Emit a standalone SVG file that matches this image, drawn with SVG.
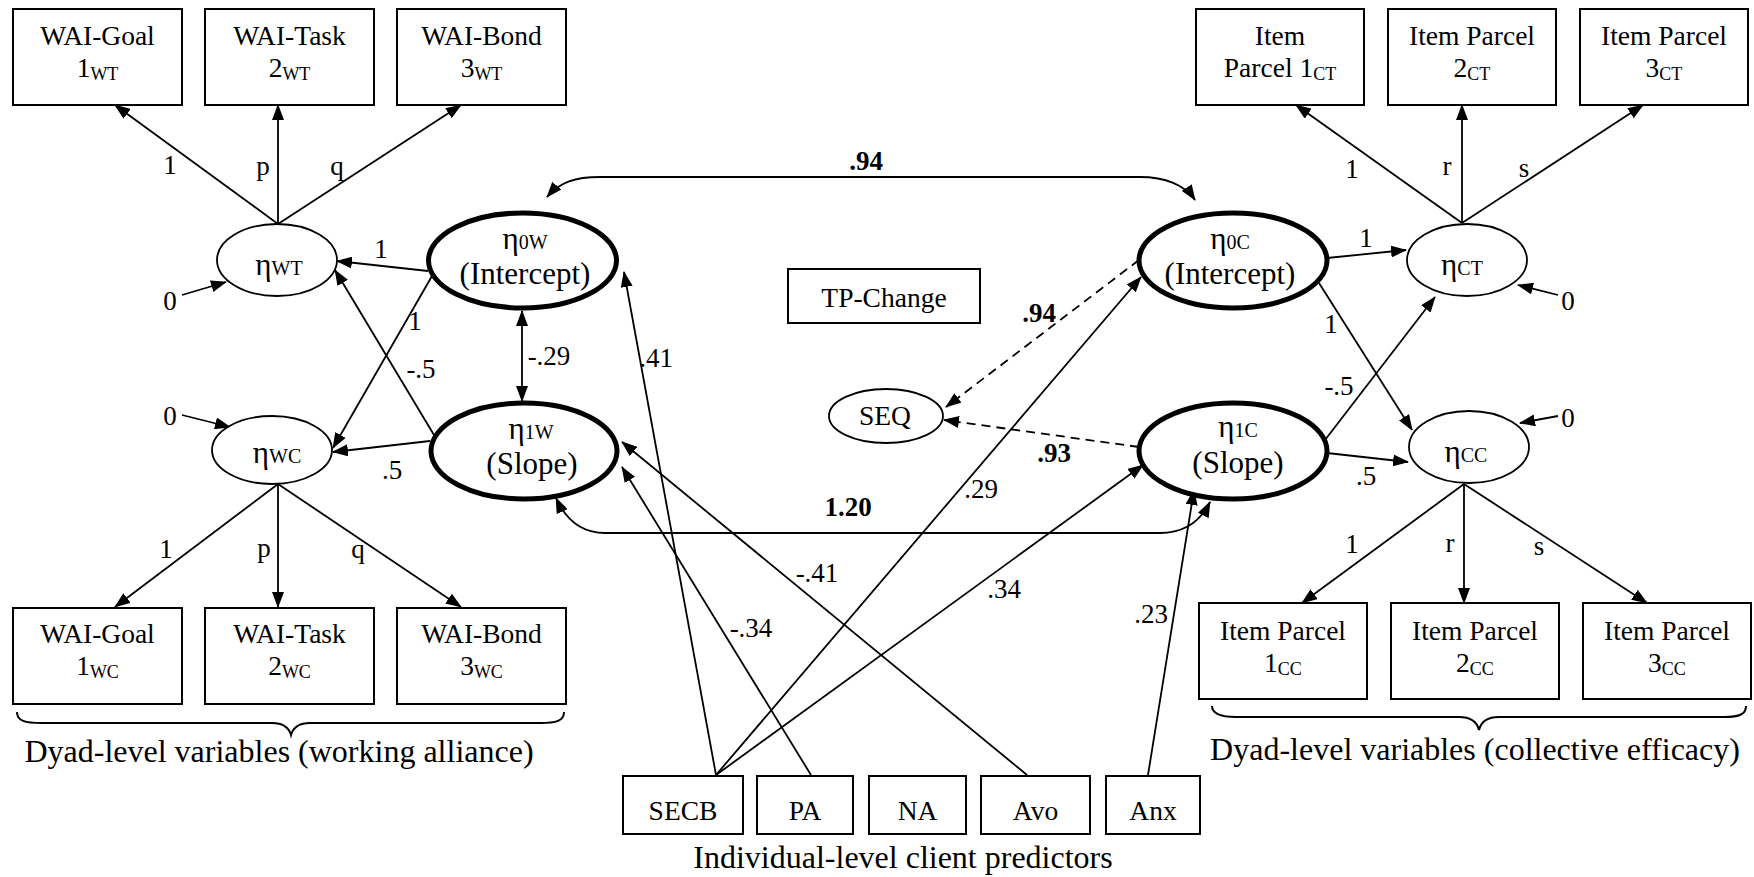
<svg xmlns="http://www.w3.org/2000/svg" width="1754" height="877" viewBox="0 0 1754 877">
<style>
text{font-family:"Liberation Serif","Times New Roman",serif;fill:#000}
.bx{fill:#fff;stroke:#000;stroke-width:2}
.el{fill:#fff;stroke:#000;stroke-width:1.8}
.th{fill:#fff;stroke:#000;stroke-width:5}
.bt{font-size:27.5px;text-anchor:middle}
.sb{font-size:18px}
.et{font-size:31px;text-anchor:middle}
.es{font-size:20px}
.lb{font-size:27px;text-anchor:middle}
.bd{font-size:27px;font-weight:bold;text-anchor:middle}
.cap{font-size:32px;text-anchor:middle}
.ln{fill:none;stroke:#000;stroke-width:1.8}
.ar{marker-end:url(#ah)}
.dd{marker-start:url(#ah);marker-end:url(#ah)}
.ds{stroke-dasharray:9 6}
.br{fill:none;stroke:#000;stroke-width:2}
</style>
<defs>
<marker id="ah" markerUnits="userSpaceOnUse" markerWidth="16" markerHeight="12" refX="15" refY="6" orient="auto-start-reverse" viewBox="0 0 16 12">
<path d="M0,0 L16,6 L0,12 z" fill="#000"/>
</marker>
</defs>

<g id="connectors">
<line class="ln ar" x1="278" y1="224" x2="115" y2="105"/>
<line class="ln ar" x1="278" y1="224" x2="278" y2="105"/>
<line class="ln ar" x1="278" y1="224" x2="461" y2="105"/>
<line class="ln ar" x1="182" y1="295" x2="226" y2="282"/>
<line class="ln ar" x1="182" y1="415" x2="230" y2="427"/>
<line class="ln ar" x1="428" y1="271" x2="337" y2="261"/>
<line class="ln ar" x1="432" y1="276" x2="333" y2="448"/>
<line class="ln ar" x1="434" y1="435" x2="335" y2="270"/>
<line class="ln ar" x1="430" y1="441" x2="333" y2="452"/>
<line class="ln dd" x1="522" y1="311" x2="522" y2="401"/>
<line class="ln ar" x1="278" y1="484" x2="115" y2="607"/>
<line class="ln ar" x1="278" y1="484" x2="278" y2="607"/>
<line class="ln ar" x1="278" y1="484" x2="461" y2="607"/>

<line class="ln ar" x1="1462" y1="223" x2="1296" y2="105"/>
<line class="ln ar" x1="1462" y1="223" x2="1462" y2="105"/>
<line class="ln ar" x1="1462" y1="223" x2="1643" y2="105"/>
<line class="ln ar" x1="1327" y1="258" x2="1406" y2="250"/>
<line class="ln ar" x1="1319" y1="283" x2="1412" y2="430"/>
<line class="ln ar" x1="1325" y1="440" x2="1435" y2="297"/>
<line class="ln ar" x1="1327" y1="453" x2="1408" y2="462"/>
<line class="ln ar" x1="1558" y1="295" x2="1518" y2="285"/>
<line class="ln ar" x1="1558" y1="416" x2="1520" y2="423"/>
<line class="ln ar" x1="1464" y1="484" x2="1302" y2="603"/>
<line class="ln ar" x1="1464" y1="484" x2="1464" y2="603"/>
<line class="ln ar" x1="1464" y1="484" x2="1647" y2="603"/>

<path class="ln dd" d="M547,197 C560,182 575,177 600,177 L1140,177 C1165,177 1185,185 1195,200"/>
<path class="ln dd" d="M556,498 C566,520 582,533 605,533 L1160,533 C1185,533 1201,520 1210,502"/>
<line class="ln ds ar" x1="1139" y1="260" x2="946" y2="407"/>
<line class="ln ds ar" x1="1139" y1="447" x2="944" y2="420"/>

<line class="ln ar" x1="716" y1="775" x2="624" y2="272"/>
<line class="ln ar" x1="716" y1="775" x2="1141" y2="277"/>
<line class="ln ar" x1="716" y1="775" x2="1143" y2="465"/>
<line class="ln ar" x1="811" y1="775" x2="622" y2="467"/>
<line class="ln ar" x1="1027" y1="775" x2="622" y2="442"/>
<line class="ln ar" x1="1148" y1="775" x2="1194" y2="490"/>

<text class="lb" x="170" y="174">1</text>
<text class="lb" x="263" y="175">p</text>
<text class="lb" x="337" y="175">q</text>
<text class="lb" x="170" y="310">0</text>
<text class="lb" x="170" y="425">0</text>
<text class="lb" x="381" y="258">1</text>
<text class="lb" x="415" y="330">1</text>
<text class="lb" x="421" y="378">-.5</text>
<text class="lb" x="392" y="479">.5</text>
<text class="lb" x="549" y="365">-.29</text>
<text class="lb" x="166" y="558">1</text>
<text class="lb" x="264" y="557">p</text>
<text class="lb" x="358" y="558">q</text>

<text class="lb" x="1352" y="178">1</text>
<text class="lb" x="1447" y="175">r</text>
<text class="lb" x="1524" y="177">s</text>
<text class="lb" x="1366" y="247">1</text>
<text class="lb" x="1331" y="333">1</text>
<text class="lb" x="1339" y="395">-.5</text>
<text class="lb" x="1366" y="485">.5</text>
<text class="lb" x="1568" y="310">0</text>
<text class="lb" x="1568" y="427">0</text>
<text class="lb" x="1352" y="553">1</text>
<text class="lb" x="1450" y="552">r</text>
<text class="lb" x="1539" y="555">s</text>

<text class="bd" x="866" y="170">.94</text>
<text class="bd" x="1039" y="322">.94</text>
<text class="bd" x="1054" y="462">.93</text>
<text class="bd" x="848" y="516">1.20</text>
<text class="lb" x="656" y="367">.41</text>
<text class="lb" x="981" y="498">.29</text>
<text class="lb" x="817" y="582">-.41</text>
<text class="lb" x="1004" y="598">.34</text>
<text class="lb" x="751" y="637">-.34</text>
<text class="lb" x="1151" y="623">.23</text>
</g>

<g id="wai-goal-wt"><rect class="bx" x="13" y="9" width="169" height="96"/><text class="bt" x="97.5" y="45">WAI-Goal</text><text class="bt" x="97.5" y="77">1<tspan class="sb" dy="3">WT</tspan></text></g>
<g id="wai-task-wt"><rect class="bx" x="205" y="9" width="169" height="96"/><text class="bt" x="289.5" y="45">WAI-Task</text><text class="bt" x="289.5" y="77">2<tspan class="sb" dy="3">WT</tspan></text></g>
<g id="wai-bond-wt"><rect class="bx" x="397" y="9" width="169" height="96"/><text class="bt" x="481.5" y="45">WAI-Bond</text><text class="bt" x="481.5" y="77">3<tspan class="sb" dy="3">WT</tspan></text></g>

<g id="wai-goal-wc"><rect class="bx" x="13" y="608" width="169" height="96"/><text class="bt" x="97.5" y="643">WAI-Goal</text><text class="bt" x="97.5" y="675">1<tspan class="sb" dy="3">WC</tspan></text></g>
<g id="wai-task-wc"><rect class="bx" x="205" y="608" width="169" height="96"/><text class="bt" x="289.5" y="643">WAI-Task</text><text class="bt" x="289.5" y="675">2<tspan class="sb" dy="3">WC</tspan></text></g>
<g id="wai-bond-wc"><rect class="bx" x="397" y="608" width="169" height="96"/><text class="bt" x="481.5" y="643">WAI-Bond</text><text class="bt" x="481.5" y="675">3<tspan class="sb" dy="3">WC</tspan></text></g>

<g id="parcel-1-ct"><rect class="bx" x="1196" y="9" width="168" height="96"/><text class="bt" x="1280" y="45">Item</text><text class="bt" x="1280" y="77">Parcel 1<tspan class="sb" dy="3">CT</tspan></text></g>
<g id="parcel-2-ct"><rect class="bx" x="1388" y="9" width="168" height="96"/><text class="bt" x="1472" y="45">Item Parcel</text><text class="bt" x="1472" y="77">2<tspan class="sb" dy="3">CT</tspan></text></g>
<g id="parcel-3-ct"><rect class="bx" x="1580" y="9" width="168" height="96"/><text class="bt" x="1664" y="45">Item Parcel</text><text class="bt" x="1664" y="77">3<tspan class="sb" dy="3">CT</tspan></text></g>

<g id="parcel-1-cc"><rect class="bx" x="1199" y="603" width="168" height="96"/><text class="bt" x="1283" y="640">Item Parcel</text><text class="bt" x="1283" y="672">1<tspan class="sb" dy="3">CC</tspan></text></g>
<g id="parcel-2-cc"><rect class="bx" x="1391" y="603" width="168" height="96"/><text class="bt" x="1475" y="640">Item Parcel</text><text class="bt" x="1475" y="672">2<tspan class="sb" dy="3">CC</tspan></text></g>
<g id="parcel-3-cc"><rect class="bx" x="1583" y="603" width="168" height="96"/><text class="bt" x="1667" y="640">Item Parcel</text><text class="bt" x="1667" y="672">3<tspan class="sb" dy="3">CC</tspan></text></g>

<g id="eta-wt"><ellipse class="el" cx="277" cy="260" rx="60" ry="36"/><text class="et" x="279" y="275">η<tspan class="es" font-size="21">WT</tspan></text></g>
<g id="eta-wc"><ellipse class="el" cx="272" cy="450" rx="60" ry="34"/><text class="et" x="277" y="463">η<tspan class="es" font-size="21">WC</tspan></text></g>
<g id="eta-0w"><ellipse class="th" cx="522.5" cy="260.5" rx="94" ry="47.5"/><text class="et" x="525" y="249">η<tspan class="es">0W</tspan></text><text class="et" x="525" y="284">(Intercept)</text></g>
<g id="eta-1w"><ellipse class="th" cx="524" cy="451" rx="93" ry="48"/><text class="et" x="531" y="439">η<tspan class="es">1W</tspan></text><text class="et" x="532" y="474">(Slope)</text></g>
<g id="eta-0c"><ellipse class="th" cx="1233" cy="260.5" rx="94" ry="47.5"/><text class="et" x="1230" y="249">η<tspan class="es">0C</tspan></text><text class="et" x="1230" y="284">(Intercept)</text></g>
<g id="eta-1c"><ellipse class="th" cx="1233" cy="451" rx="94" ry="48"/><text class="et" x="1238" y="437">η<tspan class="es">1C</tspan></text><text class="et" x="1238" y="473">(Slope)</text></g>
<g id="eta-ct"><ellipse class="el" cx="1467" cy="260" rx="60" ry="36"/><text class="et" x="1462" y="275">η<tspan class="es" font-size="21">CT</tspan></text></g>
<g id="eta-cc"><ellipse class="el" cx="1469" cy="447" rx="60" ry="36"/><text class="et" x="1466" y="462">η<tspan class="es" font-size="21">CC</tspan></text></g>

<g id="tp-change"><rect class="bx" x="788" y="269" width="192" height="54"/><text class="bt" x="884" y="307">TP-Change</text></g>
<g id="seq"><ellipse class="el" cx="886" cy="416" rx="57" ry="27"/><text class="bt" x="885" y="425">SEQ</text></g>

<g id="secb"><rect class="bx" x="623" y="776" width="120" height="58"/><text class="bt" x="683" y="820">SECB</text></g>
<g id="pa"><rect class="bx" x="757" y="776" width="96" height="58"/><text class="bt" x="805" y="820">PA</text></g>
<g id="na"><rect class="bx" x="869" y="776" width="97" height="58"/><text class="bt" x="917.5" y="820">NA</text></g>
<g id="avo"><rect class="bx" x="981" y="776" width="109" height="58"/><text class="bt" x="1035.5" y="820">Avo</text></g>
<g id="anx"><rect class="bx" x="1106" y="776" width="94" height="58"/><text class="bt" x="1153" y="820">Anx</text></g>

<g id="caption-wa"><path class="br" d="M17,712 C17,721 25,723 42,723 L272,723 C284,723 289,728 291,735 C293,728 298,723 310,723 L540,723 C556,723 564,721 564,712"/><text class="cap" x="279" y="762">Dyad-level variables (working alliance)</text></g>
<g id="caption-ce"><path class="br" d="M1212,706 C1212,714 1220,717 1236,717 L1459,717 C1471,717 1477,722 1479,730 C1481,722 1487,717 1499,717 L1724,717 C1740,717 1746,714 1746,706"/><text class="cap" x="1475" y="760">Dyad-level variables (collective efficacy)</text></g>
<g id="caption-ind"><text class="cap" x="903" y="868">Individual-level client predictors</text></g>
</svg>
